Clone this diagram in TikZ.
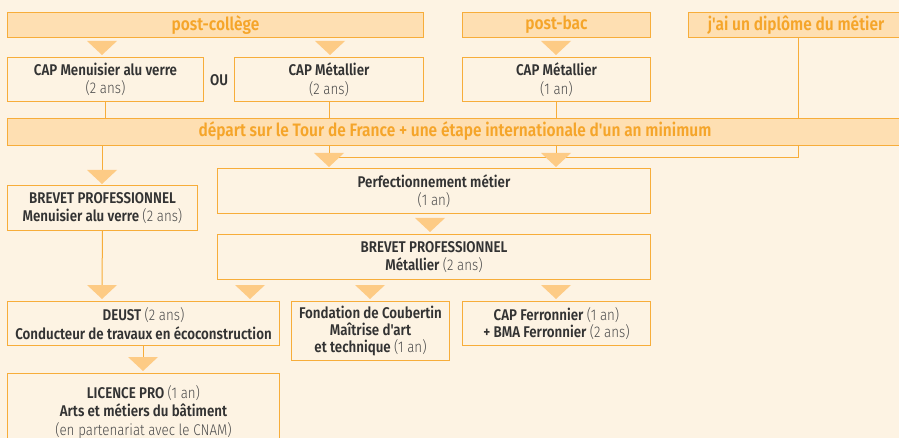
\documentclass[tikz,border=0pt]{standalone}
\usepackage{fontspec}
\setmainfont{Fira Sans}[FakeStretch=0.86]
\newfontfamily\semib{Fira Sans SemiBold}[FakeStretch=0.86]
\newfontfamily\lite{Fira Sans Light}[FakeStretch=0.86]
\definecolor{bg}{HTML}{FDF3E3}
\definecolor{hdrfill}{HTML}{FEDFB2}
\definecolor{bord}{HTML}{F7AD3A}
\definecolor{trifill}{HTML}{FDCB85}
\definecolor{orangetext}{HTML}{F5A52A}
\definecolor{darktext}{HTML}{333333}
\definecolor{graytext}{HTML}{4A4A4A}
\newcommand\tri[2]{\fill[trifill] (#1-15,#2) -- (#1+15,#2) -- (#1,#2+14) -- cycle;}
\newcommand\pa[1]{{\lite\color{graytext}#1}}
\begin{document}
\begin{tikzpicture}[x=1pt,y=-1pt,
  hdr/.style={draw=bord, fill=hdrfill, line width=1pt, text=orangetext,
    font=\semib\fontsize{18}{20}\selectfont, anchor=north west, inner sep=0pt},
  box/.style={draw=bord, fill=bg, line width=1pt, align=center, text=darktext,
    font=\semib\fontsize{15.5}{18.5}\selectfont, anchor=north west, inner sep=0pt},
  conn/.style={draw=bord, line width=1pt}]
\useasboundingbox (0,0) rectangle (899,438);
\fill[bg] (0,0) rectangle (899,438);
% headers
\node[hdr, minimum width=416pt, minimum height=25pt] (postcol) at (7,12) {post-collège};
\node[hdr, minimum width=188pt, minimum height=25pt] (postbac) at (462,12) {post-bac};
\node[hdr, minimum width=215pt, minimum height=25pt] (diplome) at (688,12) {j'ai un diplôme du métier};
% diplome connector (behind band)
\coordinate (dturn) at (798,158);
\coordinate (dend) at (329,158);
\draw[conn] (diplome.south -| dturn) -- (dturn) -- (dend);
% CAP row
\node[box, minimum width=196pt, minimum height=44pt] (capmen) at (7,57) {CAP Menuisier alu verre\\\pa{(2 ans)}};
\node[text=darktext, font=\semib\fontsize{15.5}{18}\selectfont] (ou) at (219,80) {OU};
\node[box, minimum width=189pt, minimum height=44pt] (capmet2) at (234,57) {CAP Métallier\\\pa{(2 ans)}};
\node[box, minimum width=188pt, minimum height=44pt] (capmet1) at (462,57) {CAP Métallier\\\pa{(1 an)}};
% band
\node[hdr, minimum width=900pt, minimum height=27pt] (band) at (7,118) {};
\node[text=orangetext, font=\semib\fontsize{18}{20}\selectfont] (bandtext) at (455,131) {départ sur le Tour de France + une étape internationale d'un an minimum};
% connectors into band
\draw[conn] (capmen.south) -- (band.north -| capmen.south);
\draw[conn] (capmet2.south) -- (band.north -| capmet2.south);
\draw[conn] (capmet1.south) -- (band.north -| capmet1.south);
% second row
\node[box, minimum width=190pt, minimum height=45pt] (bpmen) at (7,185) {BREVET PROFESSIONNEL\\Menuisier alu verre \pa{(2 ans)}};
\node[box, minimum width=433pt, minimum height=45pt] (perf) at (217,168) {Perfectionnement métier\\\pa{(1 an)}};
\node[box, minimum width=433pt, minimum height=45pt] (bpmet) at (217,234) {BREVET PROFESSIONNEL\\Métallier \pa{(2 ans)}};
\coordinate (t1) at (102,170);
\coordinate (t2) at (329,153);
\coordinate (t3) at (556,153);
\draw[conn] (band.south -| t1) -- (t1);
\draw[conn] (band.south -| t2) -- (t2);
\draw[conn] (band.south -| t3) -- (t3);
% third row
\node[box, minimum width=272pt, minimum height=44pt] (deust) at (7,301) {DEUST \pa{(2 ans)}\\Conducteur de travaux en écoconstruction};
\node[box, minimum width=158pt, minimum height=59pt, font=\semib\fontsize{15.5}{17}\selectfont] (fond) at (291,301) {Fondation de Coubertin\\Maîtrise d'art\\et technique \pa{(1 an)}};
\node[box, minimum width=188pt, minimum height=44pt, font=\semib\fontsize{15.5}{17}\selectfont] (capfer) at (462,301) {CAP Ferronnier \pa{(1 an)}\\+ BMA Ferronnier \pa{(2 ans)}};
\coordinate (t4) at (102,285);
\draw[conn] (bpmen.south) -- (t4);
% licence
\node[box, minimum width=272pt, minimum height=77pt] (licence) at (7,373) {LICENCE PRO \pa{(1 an)}\\Arts et métiers du bâtiment\\\pa{(en partenariat avec le CNAM)}};
\coordinate (t5) at (143,357);
\draw[conn] (deust.south -| t5) -- (t5);
% triangles
\tri{102}{41}
\tri{330}{41}
\tri{556}{41}
\tri{329}{153}
\tri{556}{153}
\tri{102}{170}
\tri{430}{218}
\tri{102}{285}
\tri{250}{285}
\tri{370}{285}
\tri{556}{285}
\tri{143}{357}
\end{tikzpicture}
\end{document}
